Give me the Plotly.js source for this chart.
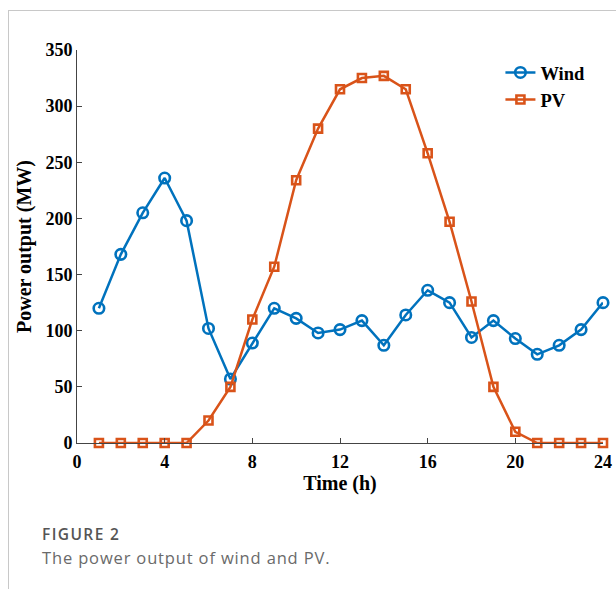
<!DOCTYPE html>
<html><head><meta charset="utf-8">
<script src="https://cdn.plot.ly/plotly-3.0.1.min.js"></script>
<style>
html,body{margin:0;padding:0;background:#fff;width:616px;height:589px;overflow:hidden;}
#frame{position:absolute;left:8px;top:10px;width:620px;height:600px;border-top:1px solid #c8c8c8;border-left:1px solid #c8c8c8;}
#chart{position:absolute;left:0;top:0;width:616px;height:589px;}
#cap1{position:absolute;left:42px;top:524px;line-height:20px;font-family:"Open Sans","Noto Sans",sans-serif;font-size:15.5px;font-weight:600;letter-spacing:1.4px;color:#555;white-space:nowrap;}
#cap2{position:absolute;left:42px;top:547px;line-height:22px;font-family:"Open Sans","Noto Sans",sans-serif;font-size:16.5px;font-weight:400;letter-spacing:0.85px;color:#6a6a6a;white-space:nowrap;}
</style></head>
<body>
<div id="frame"></div>
<div id="chart"></div>
<div id="cap1">FIGURE 2</div>
<div id="cap2">The power output of wind and PV.</div>
<script>
const hours = [1,2,3,4,5,6,7,8,9,10,11,12,13,14,15,16,17,18,19,20,21,22,23,24];
const wind = [120,168,205,236,198,102,57,89,120,111,98,101,109,87,114,136,125,94,109,93,79,87,101,125];
const pv = [0,0,0,0,0,20,50,110,157,234,280,315,325,327,315,258,197,126,50,10,0,0,0,0];
const xTicks = [0,4,8,12,16,20,24];
const yTicks = [0,50,100,150,200,250,300,350];

const fam = '"Liberation Serif","Times New Roman",serif';
const traces = [
 {x:hours, y:wind, name:'Wind', mode:'lines+markers', cliponaxis:false,
  line:{color:'#0072BD', width:2.5},
  marker:{symbol:'circle-open', size:10.5, color:'#0072BD', line:{width:2.6, color:'#0072BD'}}},
 {x:hours, y:pv, name:'PV', mode:'lines+markers', cliponaxis:false,
  line:{color:'#D95319', width:2.5},
  marker:{symbol:'square-open', size:8, color:'#D95319', line:{width:2.6, color:'#D95319'}}}
];
const layout = {
 width:616, height:589, paper_bgcolor:'rgba(0,0,0,0)', plot_bgcolor:'rgba(0,0,0,0)',
 margin:{l:77, r:13, t:50, b:146},
 showlegend:true,
 legend:{x:0.805, y:0.99, xanchor:'left', yanchor:'top', bgcolor:'rgba(0,0,0,0)',
   font:{family:fam, size:18.5, color:'#000', weight:'bold'}, tracegroupgap:0},
 xaxis:{range:[0,24], tickvals:xTicks, ticktext:xTicks.map(String), ticks:'inside', ticklen:5,
   tickcolor:'#444', showline:true, linecolor:'#444', linewidth:1, showgrid:false, zeroline:false,
   ticklabelstandoff:2,
   tickfont:{family:fam, size:18, color:'#000', weight:'bold'},
   title:{text:'Time (h)', font:{family:fam, size:20, color:'#000', weight:'bold'}, standoff:4}},
 yaxis:{range:[0,350], tickvals:yTicks, ticktext:yTicks.map(String), ticks:'inside', ticklen:5,
   tickcolor:'#444', showline:true, linecolor:'#444', linewidth:1, showgrid:false, zeroline:false,
   tickfont:{family:fam, size:18, color:'#000', weight:'bold'},
   title:{text:'Power output (MW)', font:{family:fam, size:20, color:'#000', weight:'bold'}, standoff:8}}
};
Plotly.newPlot('chart', traces, layout, {displayModeBar:false, staticPlot:true});
</script>
</body></html>
